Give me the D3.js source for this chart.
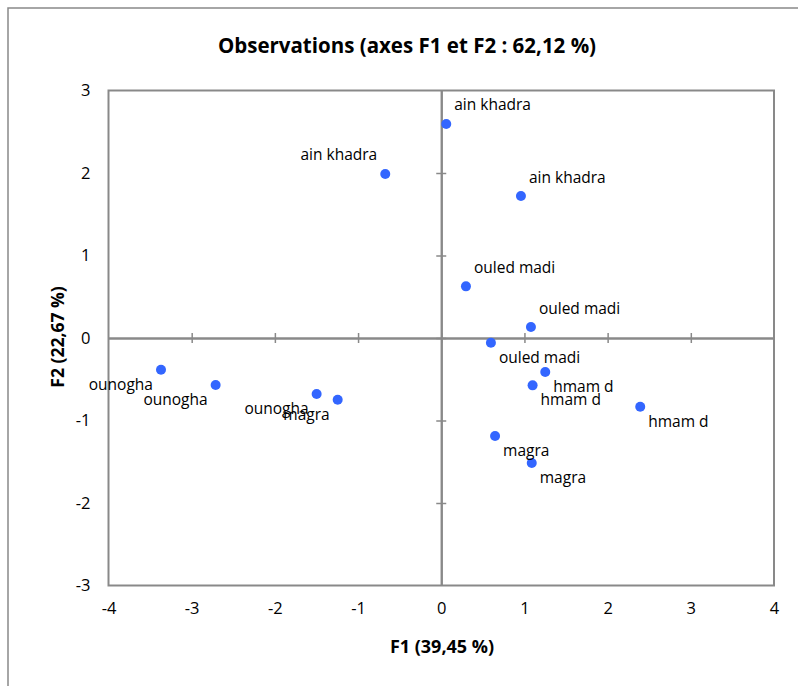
<!DOCTYPE html>
<html>
<head>
<meta charset="utf-8">
<script src="https://cdn.jsdelivr.net/npm/d3@7"></script>
<style>
  html, body { margin: 0; padding: 0; background: #fff; }
  svg { display: block; }
  text { font-family: "Open Sans", "Noto Sans", sans-serif; fill: #000; }
</style>
</head>
<body>
<svg id="chart" width="798" height="686"></svg>
<script>
// ---- data ----
const labels = ["ain khadra","ain khadra","ain khadra","ouled madi","ouled madi","ouled madi","hmam d","hmam d","hmam d","magra","magra","magra","ounogha","ounogha","ounogha"];
const f1 = [-0.673, 0.060, 0.958, 0.297, 1.078, 0.597, 1.250, 1.098, 2.392, 0.647, 1.088, -1.245, -3.369, -2.712, -1.498];
const f2 = [1.988, 2.594, 1.721, 0.626, 0.133, -0.057, -0.412, -0.574, -0.833, -1.188, -1.515, -0.748, -0.384, -0.570, -0.679];
const labelSide = ["nw","ne","ne","ne","ne","se","se","se","se","se","se","sw","sw","sw","sw"];
const xTicks = [-4, -3, -2, -1, 0, 1, 2, 3, 4];
const yTicks = [-3, -2, -1, 0, 1, 2, 3];
const titleText = "Observations (axes F1 et F2 : 62,12 %)";
const xTitle = "F1 (39,45 %)";
const yTitle = "F2 (22,67 %)";

// ---- layout ----
const svg = d3.select("#chart");
const plot = { left: 108.5, right: 774, top: 90.5, bottom: 585.5 };
const x = d3.scaleLinear().domain([-4, 4]).range([plot.left, plot.right]);
const y = d3.scaleLinear().domain([-3, 3]).range([plot.bottom, plot.top]);
const gray = "#898989";
const fmt = d => String(d);

// outer chart frame (left & top visible; extends past right/bottom)
svg.append("path")
  .attr("d", `M8,690 L8,8 L800,8`)
  .attr("fill", "none").attr("stroke", gray).attr("stroke-width", 1.5);

// title
svg.append("text")
  .attr("x", 407).attr("y", 45)
  .attr("text-anchor", "middle").attr("dominant-baseline", "central")
  .style("font-weight", "bold").style("font-size", "20.5px")
  .text(titleText);

// plot frame
svg.append("rect")
  .attr("x", plot.left).attr("y", plot.top)
  .attr("width", plot.right - plot.left).attr("height", plot.bottom - plot.top)
  .attr("fill", "none").attr("stroke", gray).attr("stroke-width", 2);

// zero axes with crossing ticks
function zeroAxis(gen, transform) {
  const g = svg.append("g").attr("transform", transform).call(gen);
  g.selectAll("text").remove();
  g.select(".domain").attr("stroke", gray).attr("stroke-width", 2);
  g.selectAll(".tick line").attr("stroke", gray).attr("stroke-width", 1.5);
  return g;
}
zeroAxis(d3.axisBottom(x).tickValues(xTicks.slice(1, -1)).tickSizeInner(5).tickSizeOuter(0), `translate(0,${y(0)})`);
zeroAxis(d3.axisTop(x).tickValues(xTicks.slice(1, -1)).tickSizeInner(5).tickSizeOuter(0), `translate(0,${y(0)})`);
zeroAxis(d3.axisLeft(y).tickValues(yTicks.slice(1, -1)).tickSizeInner(5).tickSizeOuter(0), `translate(${x(0)},0)`);
zeroAxis(d3.axisRight(y).tickValues(yTicks.slice(1, -1)).tickSizeInner(5).tickSizeOuter(0), `translate(${x(0)},0)`);

// tick labels at frame edges
const xAx = svg.append("g").attr("transform", `translate(0,${plot.bottom})`)
  .call(d3.axisBottom(x).tickValues(xTicks).tickSize(0).tickPadding(17).tickFormat(fmt));
xAx.select(".domain").remove();
xAx.selectAll("text").style("font-size", "16.5px").style("font-family", "Open Sans").attr("fill", "#000");

const yAx = svg.append("g").attr("transform", `translate(${plot.left},0)`)
  .call(d3.axisLeft(y).tickValues(yTicks).tickSize(0).tickPadding(18).tickFormat(fmt));
yAx.select(".domain").remove();
yAx.selectAll("text").style("font-size", "16.5px").style("font-family", "Open Sans").attr("fill", "#000");

// axis titles
svg.append("text")
  .attr("x", 442).attr("y", 646)
  .attr("text-anchor", "middle").attr("dominant-baseline", "central")
  .style("font-weight", "bold").style("font-size", "18px")
  .text(xTitle);
svg.append("text")
  .attr("transform", `translate(57,${337}) rotate(-90)`)
  .attr("text-anchor", "middle").attr("dominant-baseline", "central")
  .style("font-weight", "bold").style("font-size", "17.5px")
  .text(yTitle);

// points
const idx = d3.range(labels.length);
svg.append("g").selectAll("circle").data(idx).join("circle")
  .attr("cx", i => x(f1[i])).attr("cy", i => y(f2[i]))
  .attr("r", 5).attr("fill", "#3366ff");

// point labels
const off = { ne: [8, -19.5, "start"], nw: [-8, -19.5, "end"], se: [8, 14, "start"], sw: [-8, 14, "end"] };
svg.append("g").selectAll("text").data(idx).join("text")
  .attr("x", i => x(f1[i]) + off[labelSide[i]][0])
  .attr("y", i => y(f2[i]) + off[labelSide[i]][1])
  .attr("text-anchor", i => off[labelSide[i]][2])
  .attr("dominant-baseline", "central")
  .style("font-size", "15.5px")
  .text(i => labels[i]);
</script>
</body>
</html>
